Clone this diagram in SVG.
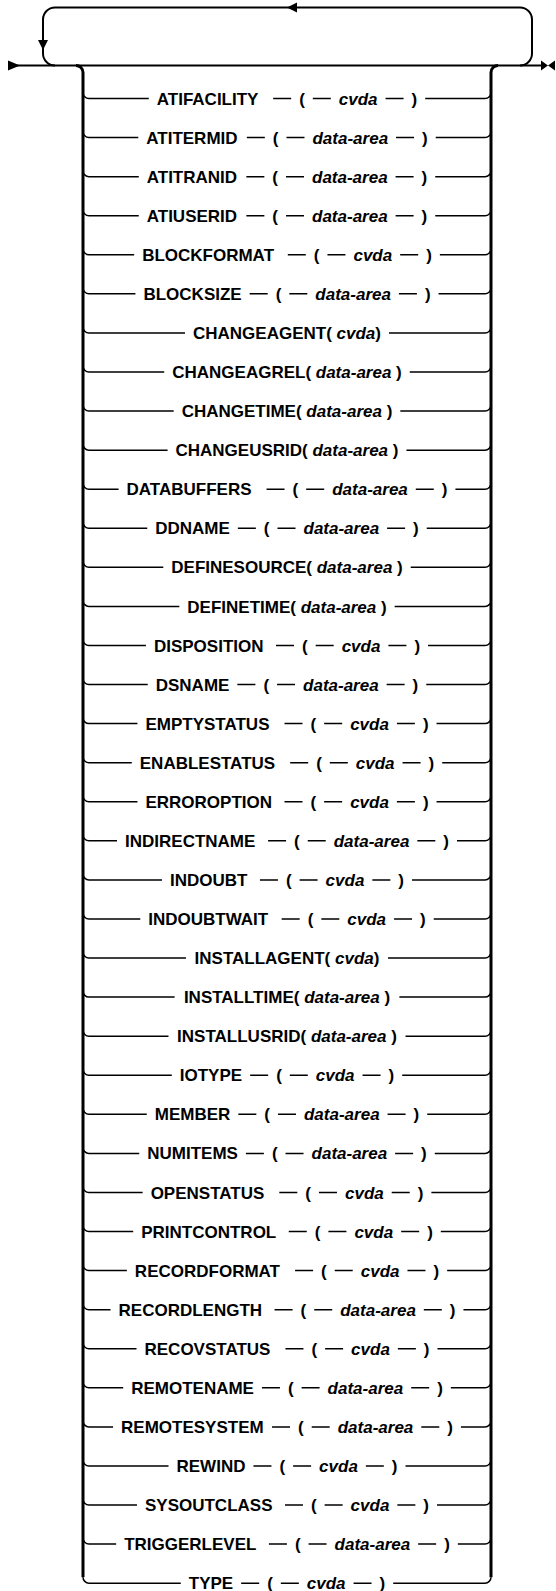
<svg xmlns="http://www.w3.org/2000/svg" width="556" height="1591" viewBox="0 0 556 1591">
<style>
text{font-family:"Liberation Sans",Arial,sans-serif;font-size:17px;font-weight:bold;fill:#000}
.i{font-style:italic}
.m{text-anchor:middle}
.s{fill:none;stroke:#000;stroke-width:1.5}
.ln{fill:none;stroke:#000;stroke-width:1.5}
.main{fill:none;stroke:#000;stroke-width:2}
.rail{fill:none;stroke:#000;stroke-width:3}
.ah{fill:#000}
</style>
<rect width="556" height="1591" fill="#fff"/>
<g id="connectors">
<path class="main" d="M8,65.5H541"/>
<path class="main" d="M520,65.5A12,12 0 0 0 532,53.5V19.5A12,12 0 0 0 520,7.5H55A12,12 0 0 0 43,19.5V53.5A12,12 0 0 0 55,65.5"/>
<polygon class="ah" points="287,7.5 297,2.5 297,12.5"/>
<polygon class="ah" points="38,40 48,40 43,50"/>
<polygon class="ah" points="8,60.5 8,70.5 20,65.5"/>
<polygon class="ah" points="541,60.5 541,70.5 548,65.5"/>
<polygon class="ah" points="555,60.5 555,70.5 548,65.5"/>
<path class="rail" d="M76,65.5A7,7 0 0 1 83,72.5V1577.16"/>
<path class="rail" d="M491,1577.16V72.5A7,7 0 0 1 498,65.5"/>
<path class="ln" d="M83,92.5A6,6 0 0 0 89,98.5H148.77M425.22,98.5H485A6,6 0 0 0 491,92.5"/>
<path class="ln" d="M83,131.57A6,6 0 0 0 89,137.57H138.28M435.73,137.57H485A6,6 0 0 0 491,131.57"/>
<path class="ln" d="M83,170.64A6,6 0 0 0 89,176.64H138.75M435.25,176.64H485A6,6 0 0 0 491,170.64"/>
<path class="ln" d="M83,209.71A6,6 0 0 0 89,215.71H138.75M435.26,215.71H485A6,6 0 0 0 491,209.71"/>
<path class="ln" d="M83,248.78A6,6 0 0 0 89,254.78H134.15M439.85,254.78H485A6,6 0 0 0 491,248.78"/>
<path class="ln" d="M83,287.85A6,6 0 0 0 89,293.85H135.44M438.57,293.85H485A6,6 0 0 0 491,287.85"/>
<path class="ln" d="M83,326.92A6,6 0 0 0 89,332.92H185.02M388.98,332.92H485A6,6 0 0 0 491,326.92"/>
<path class="ln" d="M83,365.99A6,6 0 0 0 89,371.99H164.24M409.76,371.99H485A6,6 0 0 0 491,365.99"/>
<path class="ln" d="M83,405.06A6,6 0 0 0 89,411.06H173.68M400.32,411.06H485A6,6 0 0 0 491,405.06"/>
<path class="ln" d="M83,444.13A6,6 0 0 0 89,450.13H167.55M406.45,450.13H485A6,6 0 0 0 491,444.13"/>
<path class="ln" d="M83,483.2A6,6 0 0 0 89,489.2H118.56M455.44,489.2H485A6,6 0 0 0 491,483.2"/>
<path class="ln" d="M83,522.27A6,6 0 0 0 89,528.27H147.25M426.75,528.27H485A6,6 0 0 0 491,522.27"/>
<path class="ln" d="M83,561.34A6,6 0 0 0 89,567.34H163.29M410.71,567.34H485A6,6 0 0 0 491,561.34"/>
<path class="ln" d="M83,600.41A6,6 0 0 0 89,606.41H179.34M394.66,606.41H485A6,6 0 0 0 491,600.41"/>
<path class="ln" d="M83,639.48A6,6 0 0 0 89,645.48H145.95M428.06,645.48H485A6,6 0 0 0 491,639.48"/>
<path class="ln" d="M83,678.55A6,6 0 0 0 89,684.55H147.72M426.28,684.55H485A6,6 0 0 0 491,678.55"/>
<path class="ln" d="M83,717.62A6,6 0 0 0 89,723.62H137.44M436.57,723.62H485A6,6 0 0 0 491,717.62"/>
<path class="ln" d="M83,756.69A6,6 0 0 0 89,762.69H131.78M442.23,762.69H485A6,6 0 0 0 491,756.69"/>
<path class="ln" d="M83,795.76A6,6 0 0 0 89,801.76H137.46M436.55,801.76H485A6,6 0 0 0 491,795.76"/>
<path class="ln" d="M83,834.83A6,6 0 0 0 89,840.83H117.03M456.98,840.83H485A6,6 0 0 0 491,834.83"/>
<path class="ln" d="M83,873.9A6,6 0 0 0 89,879.9H162M412,879.9H485A6,6 0 0 0 491,873.9"/>
<path class="ln" d="M83,912.97A6,6 0 0 0 89,918.97H140.29M433.72,918.97H485A6,6 0 0 0 491,912.97"/>
<path class="ln" d="M83,952.04A6,6 0 0 0 89,958.04H185.96M388.04,958.04H485A6,6 0 0 0 491,952.04"/>
<path class="ln" d="M83,991.11A6,6 0 0 0 89,997.11H174.63M399.37,997.11H485A6,6 0 0 0 491,991.11"/>
<path class="ln" d="M83,1030.18A6,6 0 0 0 89,1036.18H168.49M405.51,1036.18H485A6,6 0 0 0 491,1030.18"/>
<path class="ln" d="M83,1069.25A6,6 0 0 0 89,1075.25H171.79M402.21,1075.25H485A6,6 0 0 0 491,1069.25"/>
<path class="ln" d="M83,1108.32A6,6 0 0 0 89,1114.32H146.78M427.23,1114.32H485A6,6 0 0 0 491,1108.32"/>
<path class="ln" d="M83,1147.39A6,6 0 0 0 89,1153.39H139.22M434.78,1153.39H485A6,6 0 0 0 491,1147.39"/>
<path class="ln" d="M83,1186.46A6,6 0 0 0 89,1192.46H142.63M431.37,1192.46H485A6,6 0 0 0 491,1186.46"/>
<path class="ln" d="M83,1225.53A6,6 0 0 0 89,1231.53H133.2M440.81,1231.53H485A6,6 0 0 0 491,1225.53"/>
<path class="ln" d="M83,1264.6A6,6 0 0 0 89,1270.6H126.87M447.13,1270.6H485A6,6 0 0 0 491,1264.6"/>
<path class="ln" d="M83,1303.67A6,6 0 0 0 89,1309.67H110.53M463.48,1309.67H485A6,6 0 0 0 491,1303.67"/>
<path class="ln" d="M83,1342.74A6,6 0 0 0 89,1348.74H136.5M437.51,1348.74H485A6,6 0 0 0 491,1342.74"/>
<path class="ln" d="M83,1381.81A6,6 0 0 0 89,1387.81H123.17M450.84,1387.81H485A6,6 0 0 0 491,1381.81"/>
<path class="ln" d="M83,1420.88A6,6 0 0 0 89,1426.88H113.07M460.94,1426.88H485A6,6 0 0 0 491,1420.88"/>
<path class="ln" d="M83,1459.95A6,6 0 0 0 89,1465.95H168.5M405.5,1465.95H485A6,6 0 0 0 491,1459.95"/>
<path class="ln" d="M83,1499.02A6,6 0 0 0 89,1505.02H136.98M437.02,1505.02H485A6,6 0 0 0 491,1499.02"/>
<path class="ln" d="M83,1538.09A6,6 0 0 0 89,1544.09H116.18M457.82,1544.09H485A6,6 0 0 0 491,1538.09"/>
<path class="ln" d="M83,1577.16A6,6 0 0 0 89,1583.16H180.77M393.23,1583.16H485A6,6 0 0 0 491,1577.16"/>
</g>

<g id="row-ATIFACILITY" transform="translate(0,98.5)"><text x="156.77" y="6.1">ATIFACILITY</text><g transform="translate(273.16,0)"><path class="s" d="M0,0H18M39.66,0H57.66M112.4,0H130.4"/><text x="26" y="6.1">(</text><text class="i" x="65.66" y="6.1">cvda</text><text x="138.4" y="6.1">)</text></g></g>
<g id="row-ATITERMID" transform="translate(0,137.57)"><text x="146.28" y="6.1">ATITERMID</text><g transform="translate(246.83,0)"><path class="s" d="M0,0H18M39.66,0H57.66M149.24,0H167.24"/><text x="26" y="6.1">(</text><text class="i" x="65.66" y="6.1">data-area</text><text x="175.24" y="6.1">)</text></g></g>
<g id="row-ATITRANID" transform="translate(0,176.64)"><text x="146.75" y="6.1">ATITRANID</text><g transform="translate(246.35,0)"><path class="s" d="M0,0H18M39.66,0H57.66M149.24,0H167.24"/><text x="26" y="6.1">(</text><text class="i" x="65.66" y="6.1">data-area</text><text x="175.24" y="6.1">)</text></g></g>
<g id="row-ATIUSERID" transform="translate(0,215.71)"><text x="146.75" y="6.1">ATIUSERID</text><g transform="translate(246.36,0)"><path class="s" d="M0,0H18M39.66,0H57.66M149.24,0H167.24"/><text x="26" y="6.1">(</text><text class="i" x="65.66" y="6.1">data-area</text><text x="175.24" y="6.1">)</text></g></g>
<g id="row-BLOCKFORMAT" transform="translate(0,254.78)"><text x="142.15" y="6.1">BLOCKFORMAT</text><g transform="translate(287.79,0)"><path class="s" d="M0,0H18M39.66,0H57.66M112.4,0H130.4"/><text x="26" y="6.1">(</text><text class="i" x="65.66" y="6.1">cvda</text><text x="138.4" y="6.1">)</text></g></g>
<g id="row-BLOCKSIZE" transform="translate(0,293.85)"><text x="143.44" y="6.1">BLOCKSIZE</text><g transform="translate(249.67,0)"><path class="s" d="M0,0H18M39.66,0H57.66M149.24,0H167.24"/><text x="26" y="6.1">(</text><text class="i" x="65.66" y="6.1">data-area</text><text x="175.24" y="6.1">)</text></g></g>
<g id="row-CHANGEAGENT"><text class="m" x="287" y="339.02">CHANGEAGENT( <tspan class="i">cvda</tspan>)</text></g>
<g id="row-CHANGEAGREL"><text class="m" x="287" y="378.09">CHANGEAGREL( <tspan class="i">data-area</tspan> )</text></g>
<g id="row-CHANGETIME"><text class="m" x="287" y="417.16">CHANGETIME( <tspan class="i">data-area</tspan> )</text></g>
<g id="row-CHANGEUSRID"><text class="m" x="287" y="456.23">CHANGEUSRID( <tspan class="i">data-area</tspan> )</text></g>
<g id="row-DATABUFFERS" transform="translate(0,489.2)"><text x="126.56" y="6.1">DATABUFFERS</text><g transform="translate(266.54,0)"><path class="s" d="M0,0H18M39.66,0H57.66M149.24,0H167.24"/><text x="26" y="6.1">(</text><text class="i" x="65.66" y="6.1">data-area</text><text x="175.24" y="6.1">)</text></g></g>
<g id="row-DDNAME" transform="translate(0,528.27)"><text x="155.25" y="6.1">DDNAME</text><g transform="translate(237.85,0)"><path class="s" d="M0,0H18M39.66,0H57.66M149.24,0H167.24"/><text x="26" y="6.1">(</text><text class="i" x="65.66" y="6.1">data-area</text><text x="175.24" y="6.1">)</text></g></g>
<g id="row-DEFINESOURCE"><text class="m" x="287" y="573.44">DEFINESOURCE( <tspan class="i">data-area</tspan> )</text></g>
<g id="row-DEFINETIME"><text class="m" x="287" y="612.51">DEFINETIME( <tspan class="i">data-area</tspan> )</text></g>
<g id="row-DISPOSITION" transform="translate(0,645.48)"><text x="153.95" y="6.1">DISPOSITION</text><g transform="translate(276,0)"><path class="s" d="M0,0H18M39.66,0H57.66M112.4,0H130.4"/><text x="26" y="6.1">(</text><text class="i" x="65.66" y="6.1">cvda</text><text x="138.4" y="6.1">)</text></g></g>
<g id="row-DSNAME" transform="translate(0,684.55)"><text x="155.72" y="6.1">DSNAME</text><g transform="translate(237.38,0)"><path class="s" d="M0,0H18M39.66,0H57.66M149.24,0H167.24"/><text x="26" y="6.1">(</text><text class="i" x="65.66" y="6.1">data-area</text><text x="175.24" y="6.1">)</text></g></g>
<g id="row-EMPTYSTATUS" transform="translate(0,723.62)"><text x="145.44" y="6.1">EMPTYSTATUS</text><g transform="translate(284.51,0)"><path class="s" d="M0,0H18M39.66,0H57.66M112.4,0H130.4"/><text x="26" y="6.1">(</text><text class="i" x="65.66" y="6.1">cvda</text><text x="138.4" y="6.1">)</text></g></g>
<g id="row-ENABLESTATUS" transform="translate(0,762.69)"><text x="139.78" y="6.1">ENABLESTATUS</text><g transform="translate(290.17,0)"><path class="s" d="M0,0H18M39.66,0H57.66M112.4,0H130.4"/><text x="26" y="6.1">(</text><text class="i" x="65.66" y="6.1">cvda</text><text x="138.4" y="6.1">)</text></g></g>
<g id="row-ERROROPTION" transform="translate(0,801.76)"><text x="145.46" y="6.1">ERROROPTION</text><g transform="translate(284.49,0)"><path class="s" d="M0,0H18M39.66,0H57.66M112.4,0H130.4"/><text x="26" y="6.1">(</text><text class="i" x="65.66" y="6.1">cvda</text><text x="138.4" y="6.1">)</text></g></g>
<g id="row-INDIRECTNAME" transform="translate(0,840.83)"><text x="125.03" y="6.1">INDIRECTNAME</text><g transform="translate(268.08,0)"><path class="s" d="M0,0H18M39.66,0H57.66M149.24,0H167.24"/><text x="26" y="6.1">(</text><text class="i" x="65.66" y="6.1">data-area</text><text x="175.24" y="6.1">)</text></g></g>
<g id="row-INDOUBT" transform="translate(0,879.9)"><text x="170" y="6.1">INDOUBT</text><g transform="translate(259.94,0)"><path class="s" d="M0,0H18M39.66,0H57.66M112.4,0H130.4"/><text x="26" y="6.1">(</text><text class="i" x="65.66" y="6.1">cvda</text><text x="138.4" y="6.1">)</text></g></g>
<g id="row-INDOUBTWAIT" transform="translate(0,918.97)"><text x="148.29" y="6.1">INDOUBTWAIT</text><g transform="translate(281.66,0)"><path class="s" d="M0,0H18M39.66,0H57.66M112.4,0H130.4"/><text x="26" y="6.1">(</text><text class="i" x="65.66" y="6.1">cvda</text><text x="138.4" y="6.1">)</text></g></g>
<g id="row-INSTALLAGENT"><text class="m" x="287" y="964.14">INSTALLAGENT( <tspan class="i">cvda</tspan>)</text></g>
<g id="row-INSTALLTIME"><text class="m" x="287" y="1003.21">INSTALLTIME( <tspan class="i">data-area</tspan> )</text></g>
<g id="row-INSTALLUSRID"><text class="m" x="287" y="1042.28">INSTALLUSRID( <tspan class="i">data-area</tspan> )</text></g>
<g id="row-IOTYPE" transform="translate(0,1075.25)"><text x="179.79" y="6.1">IOTYPE</text><g transform="translate(250.15,0)"><path class="s" d="M0,0H18M39.66,0H57.66M112.4,0H130.4"/><text x="26" y="6.1">(</text><text class="i" x="65.66" y="6.1">cvda</text><text x="138.4" y="6.1">)</text></g></g>
<g id="row-MEMBER" transform="translate(0,1114.32)"><text x="154.78" y="6.1">MEMBER</text><g transform="translate(238.33,0)"><path class="s" d="M0,0H18M39.66,0H57.66M149.24,0H167.24"/><text x="26" y="6.1">(</text><text class="i" x="65.66" y="6.1">data-area</text><text x="175.24" y="6.1">)</text></g></g>
<g id="row-NUMITEMS" transform="translate(0,1153.39)"><text x="147.22" y="6.1">NUMITEMS</text><g transform="translate(245.88,0)"><path class="s" d="M0,0H18M39.66,0H57.66M149.24,0H167.24"/><text x="26" y="6.1">(</text><text class="i" x="65.66" y="6.1">data-area</text><text x="175.24" y="6.1">)</text></g></g>
<g id="row-OPENSTATUS" transform="translate(0,1192.46)"><text x="150.63" y="6.1">OPENSTATUS</text><g transform="translate(279.31,0)"><path class="s" d="M0,0H18M39.66,0H57.66M112.4,0H130.4"/><text x="26" y="6.1">(</text><text class="i" x="65.66" y="6.1">cvda</text><text x="138.4" y="6.1">)</text></g></g>
<g id="row-PRINTCONTROL" transform="translate(0,1231.53)"><text x="141.2" y="6.1">PRINTCONTROL</text><g transform="translate(288.75,0)"><path class="s" d="M0,0H18M39.66,0H57.66M112.4,0H130.4"/><text x="26" y="6.1">(</text><text class="i" x="65.66" y="6.1">cvda</text><text x="138.4" y="6.1">)</text></g></g>
<g id="row-RECORDFORMAT" transform="translate(0,1270.6)"><text x="134.87" y="6.1">RECORDFORMAT</text><g transform="translate(295.07,0)"><path class="s" d="M0,0H18M39.66,0H57.66M112.4,0H130.4"/><text x="26" y="6.1">(</text><text class="i" x="65.66" y="6.1">cvda</text><text x="138.4" y="6.1">)</text></g></g>
<g id="row-RECORDLENGTH" transform="translate(0,1309.67)"><text x="118.53" y="6.1">RECORDLENGTH</text><g transform="translate(274.58,0)"><path class="s" d="M0,0H18M39.66,0H57.66M149.24,0H167.24"/><text x="26" y="6.1">(</text><text class="i" x="65.66" y="6.1">data-area</text><text x="175.24" y="6.1">)</text></g></g>
<g id="row-RECOVSTATUS" transform="translate(0,1348.74)"><text x="144.5" y="6.1">RECOVSTATUS</text><g transform="translate(285.45,0)"><path class="s" d="M0,0H18M39.66,0H57.66M112.4,0H130.4"/><text x="26" y="6.1">(</text><text class="i" x="65.66" y="6.1">cvda</text><text x="138.4" y="6.1">)</text></g></g>
<g id="row-REMOTENAME" transform="translate(0,1387.81)"><text x="131.17" y="6.1">REMOTENAME</text><g transform="translate(261.94,0)"><path class="s" d="M0,0H18M39.66,0H57.66M149.24,0H167.24"/><text x="26" y="6.1">(</text><text class="i" x="65.66" y="6.1">data-area</text><text x="175.24" y="6.1">)</text></g></g>
<g id="row-REMOTESYSTEM" transform="translate(0,1426.88)"><text x="121.07" y="6.1">REMOTESYSTEM</text><g transform="translate(272.04,0)"><path class="s" d="M0,0H18M39.66,0H57.66M149.24,0H167.24"/><text x="26" y="6.1">(</text><text class="i" x="65.66" y="6.1">data-area</text><text x="175.24" y="6.1">)</text></g></g>
<g id="row-REWIND" transform="translate(0,1465.95)"><text x="176.5" y="6.1">REWIND</text><g transform="translate(253.44,0)"><path class="s" d="M0,0H18M39.66,0H57.66M112.4,0H130.4"/><text x="26" y="6.1">(</text><text class="i" x="65.66" y="6.1">cvda</text><text x="138.4" y="6.1">)</text></g></g>
<g id="row-SYSOUTCLASS" transform="translate(0,1505.02)"><text x="144.98" y="6.1">SYSOUTCLASS</text><g transform="translate(284.96,0)"><path class="s" d="M0,0H18M39.66,0H57.66M112.4,0H130.4"/><text x="26" y="6.1">(</text><text class="i" x="65.66" y="6.1">cvda</text><text x="138.4" y="6.1">)</text></g></g>
<g id="row-TRIGGERLEVEL" transform="translate(0,1544.09)"><text x="124.18" y="6.1">TRIGGERLEVEL</text><g transform="translate(268.92,0)"><path class="s" d="M0,0H18M39.66,0H57.66M149.24,0H167.24"/><text x="26" y="6.1">(</text><text class="i" x="65.66" y="6.1">data-area</text><text x="175.24" y="6.1">)</text></g></g>
<g id="row-TYPE" transform="translate(0,1583.16)"><text x="188.77" y="6.1">TYPE</text><g transform="translate(241.17,0)"><path class="s" d="M0,0H18M39.66,0H57.66M112.4,0H130.4"/><text x="26" y="6.1">(</text><text class="i" x="65.66" y="6.1">cvda</text><text x="138.4" y="6.1">)</text></g></g>
</svg>
